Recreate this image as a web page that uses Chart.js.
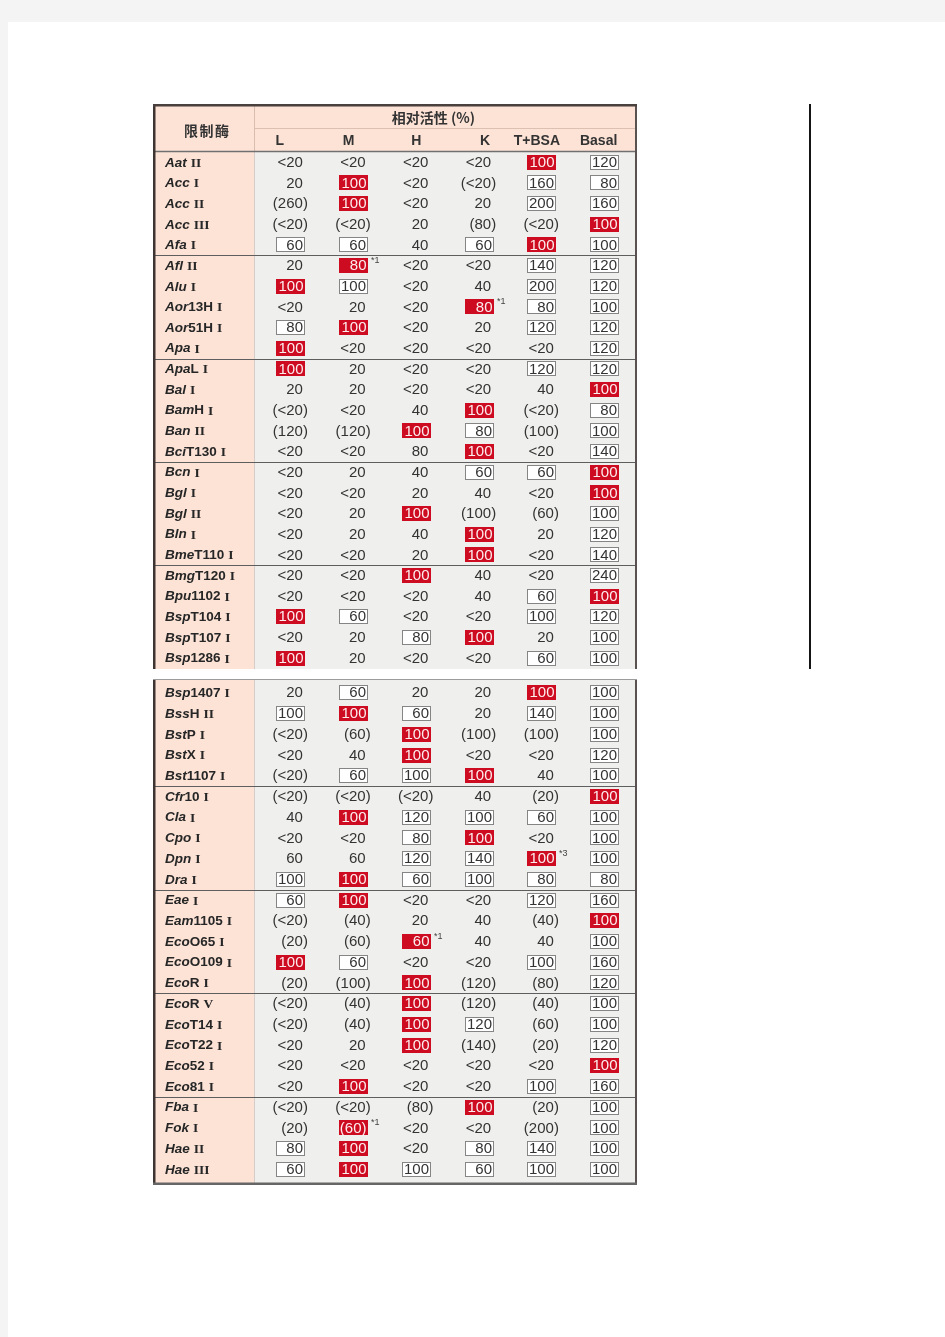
<!DOCTYPE html>
<html>
<head>
<meta charset="utf-8">
<script src="https://cdn.jsdelivr.net/npm/chart.js@4.4.0/dist/chart.umd.min.js"></script>
<style>
html, body { margin: 0; padding: 0; width: 945px; height: 1337px; overflow: hidden; background: #f4f4f4; }
#page { position: absolute; left: 8px; top: 22px; right: 0; bottom: 0; background: #fff; }
.tbl { position: absolute; left: 153px; }
#t1 { top: 104px; }
#t2 { top: 679px; }
#rule { position: absolute; left: 809px; top: 104px; width: 2px; height: 565px; background: #151515; }
canvas { display: block; }
</style>
</head>
<body>
<div id="page"></div>
<div class="tbl" id="t1"><canvas id="table1" width="484" height="565"></canvas></div>
<div class="tbl" id="t2"><canvas id="table2" width="484" height="506"></canvas></div>
<div id="rule"></div>
<script>
var columns = ['L', 'M', 'H', 'K', 'T+BSA', 'Basal'];

var enzymes1 = ['Aat II', 'Acc I', 'Acc II', 'Acc III', 'Afa I',
    'Afl II', 'Alu I', 'Aor13H I', 'Aor51H I', 'Apa I',
    'ApaL I', 'Bal I', 'BamH I', 'Ban II', 'BciT130 I',
    'Bcn I', 'Bgl I', 'Bgl II', 'Bln I', 'BmeT110 I',
    'BmgT120 I', 'Bpu1102 I', 'BspT104 I', 'BspT107 I', 'Bsp1286 I'];

var activity1 = [
    ['<20', '<20', '<20', '<20', '100', '120'],
    ['20', '100', '<20', '(<20)', '160', '80'],
    ['(260)', '100', '<20', '20', '200', '160'],
    ['(<20)', '(<20)', '20', '(80)', '(<20)', '100'],
    ['60', '60', '40', '60', '100', '100'],
    ['20', '80', '<20', '<20', '140', '120'],
    ['100', '100', '<20', '40', '200', '120'],
    ['<20', '20', '<20', '80', '80', '100'],
    ['80', '100', '<20', '20', '120', '120'],
    ['100', '<20', '<20', '<20', '<20', '120'],
    ['100', '20', '<20', '<20', '120', '120'],
    ['20', '20', '<20', '<20', '40', '100'],
    ['(<20)', '<20', '40', '100', '(<20)', '80'],
    ['(120)', '(120)', '100', '80', '(100)', '100'],
    ['<20', '<20', '80', '100', '<20', '140'],
    ['<20', '20', '40', '60', '60', '100'],
    ['<20', '<20', '20', '40', '<20', '100'],
    ['<20', '20', '100', '(100)', '(60)', '100'],
    ['<20', '20', '40', '100', '20', '120'],
    ['<20', '<20', '20', '100', '<20', '140'],
    ['<20', '<20', '100', '40', '<20', '240'],
    ['<20', '<20', '<20', '40', '60', '100'],
    ['100', '60', '<20', '<20', '100', '120'],
    ['<20', '20', '80', '100', '20', '100'],
    ['100', '20', '<20', '<20', '60', '100']
];

// r = red (optimal buffer), b = boxed, - = plain
var marks1 = ['----rb', '-r--bb', '-r--bb', '-----r', 'bb-brb',
    '-r--bb', 'rb--bb', '---rbb', 'br--bb', 'r----b',
    'r---bb', '-----r', '---r-b', '--rb-b', '---r-b',
    '---bbr', '-----r', '--r--b', '---r-b', '---r-b',
    '--r--b', '----br', 'rb--bb', '--br-b', 'r---bb'];

var notes1 = [
    { enzyme: 'Afl II', column: 'M', text: '*1' },
    { enzyme: 'Aor13H I', column: 'K', text: '*1' }
];

var enzymes2 = ['Bsp1407 I', 'BssH II', 'BstP I', 'BstX I', 'Bst1107 I',
    'Cfr10 I', 'Cla I', 'Cpo I', 'Dpn I', 'Dra I',
    'Eae I', 'Eam1105 I', 'EcoO65 I', 'EcoO109 I', 'EcoR I',
    'EcoR V', 'EcoT14 I', 'EcoT22 I', 'Eco52 I', 'Eco81 I',
    'Fba I', 'Fok I', 'Hae II', 'Hae III'];

var activity2 = [
    ['20', '60', '20', '20', '100', '100'],
    ['100', '100', '60', '20', '140', '100'],
    ['(<20)', '(60)', '100', '(100)', '(100)', '100'],
    ['<20', '40', '100', '<20', '<20', '120'],
    ['(<20)', '60', '100', '100', '40', '100'],
    ['(<20)', '(<20)', '(<20)', '40', '(20)', '100'],
    ['40', '100', '120', '100', '60', '100'],
    ['<20', '<20', '80', '100', '<20', '100'],
    ['60', '60', '120', '140', '100', '100'],
    ['100', '100', '60', '100', '80', '80'],
    ['60', '100', '<20', '<20', '120', '160'],
    ['(<20)', '(40)', '20', '40', '(40)', '100'],
    ['(20)', '(60)', '60', '40', '40', '100'],
    ['100', '60', '<20', '<20', '100', '160'],
    ['(20)', '(100)', '100', '(120)', '(80)', '120'],
    ['(<20)', '(40)', '100', '(120)', '(40)', '100'],
    ['(<20)', '(40)', '100', '120', '(60)', '100'],
    ['<20', '20', '100', '(140)', '(20)', '120'],
    ['<20', '<20', '<20', '<20', '<20', '100'],
    ['<20', '100', '<20', '<20', '100', '160'],
    ['(<20)', '(<20)', '(80)', '100', '(20)', '100'],
    ['(20)', '(60)', '<20', '<20', '(200)', '100'],
    ['80', '100', '<20', '80', '140', '100'],
    ['60', '100', '100', '60', '100', '100']
];

var marks2 = ['-b--rb', 'brb-bb', '--r--b', '--r--b', '-bbr-b',
    '-----r', '-rbbbb', '--br-b', '--bbrb', 'brbbbb',
    'br--bb', '-----r', '--r--b', 'rb--bb', '--r--b',
    '--r--b', '--rb-b', '--r--b', '-----r', '-r--bb',
    '---r-b', '-r---b', 'br-bbb', 'brbbbb'];

var notes2 = [
    { enzyme: 'Dpn I', column: 'T+BSA', text: '*3' },
    { enzyme: 'EcoO65 I', column: 'H', text: '*1' },
    { enzyme: 'Fok I', column: 'M', text: '*1' }
];

var SANS = '"Liberation Sans", Arial, sans-serif';
var CJK = '"Noto Sans CJK SC", sans-serif';

function hline(ctx, x1, x2, y, color, w) {
    ctx.strokeStyle = color;
    ctx.lineWidth = w;
    ctx.beginPath();
    ctx.moveTo(x1, y);
    ctx.lineTo(x2, y);
    ctx.stroke();
}

function vline(ctx, x, y1, y2, color, w) {
    ctx.strokeStyle = color;
    ctx.lineWidth = w;
    ctx.beginPath();
    ctx.moveTo(x, y1);
    ctx.lineTo(x, y2);
    ctx.stroke();
}

// table frame, header and left name column
var framePlugin = {
    id: 'frame',
    beforeDraw: function (chart) {
        var ctx = chart.ctx, area = chart.chartArea;
        var W = chart.width, H = chart.height;
        var opts = chart.options.plugins.frame;
        var yS = chart.scales.y, xS = chart.scales.x;
        var divX = area.left - 5.5;
        var headH = opts.header ? area.top - 1 : 0;
        ctx.save();
        ctx.fillStyle = '#efefed';
        ctx.fillRect(0, 0, W, H);
        ctx.fillStyle = '#fce3d6';
        ctx.fillRect(0, 0, divX, H);
        if (opts.header) {
            ctx.fillRect(0, 0, W, headH);
            hline(ctx, divX, W, 24.5, '#dcc0b2', 1);
            vline(ctx, divX + 0.5, 0, headH, '#d9bdae', 1);
        }
        vline(ctx, divX + 0.5, headH, H, '#d6cdc8', 1);

        // group separators every five rows
        var n = yS.getLabels().length;
        for (var i = 5; i < n; i += 5) {
            var y = Math.round((yS.getPixelForValue(i - 1) + yS.getPixelForValue(i)) / 2) + 0.5;
            hline(ctx, 0, W, y, '#5e5e5e', 1);
        }

        if (opts.header) {
            hline(ctx, 0, W, headH + 0.5, '#707070', 1.5);
            ctx.fillStyle = '#333';
            ctx.textBaseline = 'middle';
            ctx.textAlign = 'center';
            ctx.font = 'bold 14px ' + CJK;
            ctx.fillText('相对活性 (%)', xS.getPixelForValue(2) + 17, 14);
            var chars = ['限', '制', '酶'];
            chars.forEach(function (c, k) {
                ctx.fillText(c, divX / 2 + 3 + (k - 1) * 15.5, 27);
            });
            ctx.font = 'bold 14px ' + SANS;
            var shift = [-11, -5, 0, 6, -5, -6];
            columns.forEach(function (c, k) {
                ctx.fillText(c, xS.getPixelForValue(k) + shift[k], 37.5);
            });
        }

        // outer border
        ctx.fillStyle = '#3e3532';
        ctx.fillRect(0, 0, 2.5, H);
        ctx.fillStyle = '#5a5250';
        ctx.fillRect(W - 2, 0, 2, H);
        if (opts.header) {
            ctx.fillStyle = '#4a403d';
            ctx.fillRect(0, 0, W, 2.5);
        } else {
            hline(ctx, 0, W, 0.5, '#9c9c9c', 1);
            ctx.fillStyle = '#666';
            ctx.fillRect(0, H - 2.5, W, 2.5);
        }
        ctx.restore();
    },
    afterDatasetsDraw: function (chart) {
        var ctx = chart.ctx;
        var yS = chart.scales.y;
        var names = yS.getLabels();
        ctx.save();
        ctx.textBaseline = 'middle';
        ctx.textAlign = 'left';
        ctx.fillStyle = '#262626';
        names.forEach(function (name, i) {
            var y = yS.getPixelForValue(i) + 0.5;
            var parts = name.split(' ');
            var x = 12;
            ctx.font = 'italic bold 13.5px ' + SANS;
            ctx.fillText(parts[0].slice(0, 3), x, y);
            x += ctx.measureText(parts[0].slice(0, 3)).width;
            ctx.font = 'bold 13.5px ' + SANS;
            ctx.fillText(parts[0].slice(3), x, y);
            x += ctx.measureText(parts[0].slice(3)).width + 4;
            ctx.font = 'bold 13.5px "Liberation Serif", serif';
            ctx.fillText(parts[1], x, y + 0.5);
        });

        // activity cells
        chart.data.datasets.forEach(function (ds, c) {
            var meta = chart.getDatasetMeta(c);
            meta.data.forEach(function (el, i) {
                var raw = ds.data[i];
                var cx = el.x, cy = el.y;
                var bx = Math.round(cx - 14.5), by = Math.round(cy - 7.5);
                ctx.font = '15px ' + SANS;
                ctx.textAlign = 'right';
                if (raw.mark === 'r') {
                    ctx.fillStyle = '#cd0b21';
                    ctx.fillRect(bx, by, 29, 15);
                    ctx.fillStyle = '#fdeeee';
                    ctx.fillText(raw.value, bx + 27.5, cy + 0.5);
                } else if (raw.mark === 'b') {
                    ctx.fillStyle = '#ffffff';
                    ctx.fillRect(bx, by, 29, 15);
                    ctx.strokeStyle = '#858585';
                    ctx.lineWidth = 1;
                    ctx.strokeRect(bx + 0.5, by + 0.5, 28, 14);
                    ctx.fillStyle = '#333';
                    ctx.fillText(raw.value, bx + 27, cy + 0.5);
                } else {
                    ctx.fillStyle = '#333';
                    var rx = cx + 12;
                    if (raw.value.charAt(0) === '(') {
                        var inner = raw.value.slice(1, -1);
                        ctx.fillText(inner, rx, cy + 0.5);
                        var w = ctx.measureText(inner).width;
                        ctx.fillText('(', rx - w, cy + 0.5);
                        ctx.textAlign = 'left';
                        ctx.fillText(')', rx, cy + 0.5);
                    } else {
                        ctx.fillText(raw.value, rx, cy + 0.5);
                    }
                }
                if (raw.note) {
                    ctx.font = '9px ' + SANS;
                    ctx.textAlign = 'left';
                    ctx.fillStyle = '#444';
                    ctx.fillText(raw.note, bx + 32, cy - 5);
                }
            });
        });
        ctx.restore();
    }
};

function makeTable(id, enzymes, activity, marks, notes, header, padding) {
    var datasets = columns.map(function (col, c) {
        return {
            label: col,
            data: enzymes.map(function (e, r) {
                var note = notes.filter(function (n) { return n.enzyme === e && n.column === col; })[0];
                return { x: col, y: e, value: activity[r][c], mark: marks[r].charAt(c), note: note ? note.text : '' };
            }),
            pointRadius: 0,
            pointHoverRadius: 0
        };
    });
    return new Chart(document.getElementById(id).getContext('2d'), {
        type: 'scatter',
        data: { datasets: datasets },
        options: {
            responsive: false,
            animation: false,
            events: [],
            layout: { padding: padding },
            plugins: {
                legend: { display: false },
                tooltip: { enabled: false },
                frame: { header: header }
            },
            scales: {
                x: { type: 'category', labels: columns, offset: true, display: false },
                y: { type: 'category', labels: enzymes, offset: true, display: false }
            }
        },
        plugins: [framePlugin]
    });
}

var chart1 = makeTable('table1', enzymes1, activity1, marks1, notes1, true,
    { left: 106.5, right: 1, top: 48, bottom: 0.5 });
var chart2 = makeTable('table2', enzymes2, activity2, marks2, notes2, false,
    { left: 106.5, right: 1, top: 3.5, bottom: 5.3 });
</script>
</body>
</html>
